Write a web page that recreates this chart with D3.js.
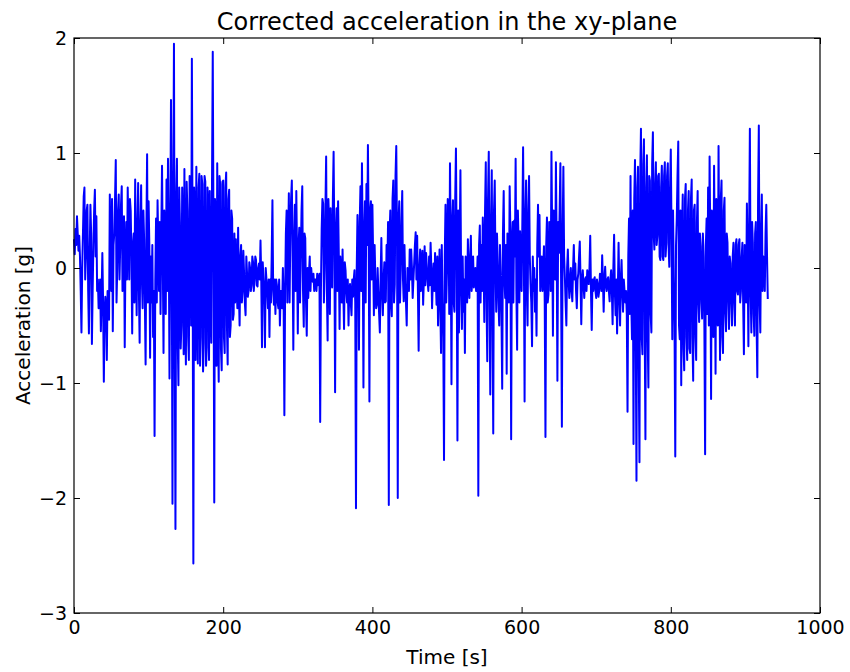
<!DOCTYPE html>
<html>
<head>
<meta charset="utf-8">
<script src="https://cdn.jsdelivr.net/npm/d3@7/dist/d3.min.js"></script>
<style>
  html, body { margin: 0; padding: 0; background: #ffffff; }
  svg { display: block; font-family: "DejaVu Sans", sans-serif; }
</style>
</head>
<body>
<svg id="chart" width="850" height="672"></svg>
<script>
// Acceleration samples (g), one per second, split into 200 s blocks
const sampleStep = 1;
const accel000 = [
  0.25, 0.12, 0.34, 0.2, 0.45, 0.3, 0.15, 0.28, 0.1, -0.2,
  -0.56, 0.0, 0.3, 0.62, 0.70, -0.1, 0.1, 0.5, 0.55, -0.2,
  -0.57, 0.1, 0.55, 0.3, -0.66, -0.2, 0.2, 0.5, 0.68, 0.1,
  0.45, -0.2, -0.1, -0.35, -0.3, -0.1, -0.55, -0.25, 0.13, -0.3,
  -0.99, -0.4, -0.25, -0.35, -0.8, -0.2, -0.3, -0.45, 0.64, 0.2,
  -0.2, 0.6, -0.55, 0.2, 0.3, 0.6, 0.94, -0.3, 0.0, 0.5,
  0.64, -0.1, 0.2, 0.55, 0.71, -0.2, 0.05, 0.45, -0.69, 0.1,
  0.4, -0.1, 0.7, 0.3, -0.1, 0.6, 0.5, 0.1, -0.57, 0.2,
  0.3, -0.3, 0.77, 0.1, -0.41, 0.35, 0.74, -0.2, -0.65, 0.4,
  0.72, -0.1, -0.35, 0.5, 0.25, -0.3, -0.84, 0.3, 0.99, -0.3,
  0.58, 0.2, -0.78, 0.1, -0.3, 0.2, -0.6, -0.2, -1.46, -0.1,
  0.43, -0.3, 0.59, 0.2, -0.2, 0.4, -0.4, 0.3, 0.89, 0.1,
  -0.74, 0.5, 0.1, -0.4, 0.77, -0.2, 0.95, 0.3, -0.96, 0.2,
  1.46, 0.3, -2.05, 0.5, 1.95, -0.6, -2.27, 0.6, 0.95, -0.6,
  -1.02, 0.7, 0.4, -0.7, -0.5, 0.7, 0.3, -0.75, 0.86, -0.4,
  -0.84, 0.75, 0.5, -0.6, -0.8, 0.8, 0.61, -0.5, 1.82, 0.2,
  -2.57, 0.7, 0.5, -0.8, 0.88, -0.3, -0.83, 0.7, 0.82, -0.85,
  -0.6, 0.8, 0.73, -0.9, -0.65, 0.8, 0.75, -0.85, -0.69, 0.7,
  0.5, -0.8, 0.67, -0.3, -0.65, 0.75, 1.88, 0.3, -2.04, 0.6,
  0.4, -0.85, 0.91, -0.5, -0.99, 0.8, 0.73, -0.7, -0.89, 0.75
];
const accel200 = [
  0.76, -0.6, -0.74, 0.7, 0.83, -0.5, -0.84, 0.6, 0.68, -0.6,
  -0.5, 0.5, 0.43, -0.45, -0.4, 0.3, -0.3, 0.25, -0.15, -0.35,
  0.35, -0.2, -0.5, 0.1, 0.2, -0.3, -0.2, 0.15, -0.05, -0.3,
  -0.41, 0.1, -0.05, -0.25, -0.2, 0.05, 0.0, -0.2, -0.15, 0.1,
  0.05, -0.2, -0.1, 0.1, 0.07, -0.15, -0.16, 0.0, 0.04, -0.1,
  0.24, -0.1, -0.69, 0.05, -0.1, -0.2, -0.69, 0.0, -0.1, -0.2,
  -0.35, -0.1, -0.6, -0.1, -0.3, 0.1, 0.59, -0.2, -0.32, -0.1,
  -0.4, -0.1, -0.15, -0.3, -0.35, -0.1, -0.5, -0.2, -0.2, -0.35,
  0.0, -0.3, -1.28, -0.2, 0.3, 0.5, -0.3, 0.2, 0.65, -0.3,
  0.3, 0.6, 0.76, 0.1, -0.71, 0.2, 0.55, -0.2, 0.67, 0.1,
  -0.57, 0.2, 0.35, -0.3, 0.1, 0.5, 0.71, -0.2, -0.51, 0.3,
  0.26, -0.3, -0.59, 0.0, -0.26, -0.05, 0.1, -0.2, 0.0, -0.1,
  -0.12, -0.05, -0.2, -0.1, -0.1, -0.2, -0.05, -0.15, -0.14, -0.05,
  -1.34, -0.2, 0.34, 0.6, 0.56, -0.3, -0.02, 0.5, 0.97, -0.2,
  -0.63, 0.6, 0.4, -0.4, 0.52, 0.1, -0.17, 0.6, 1.01, 0.2,
  -1.08, 0.3, 0.52, -0.2, 0.58, 0.1, -0.53, 0.1, -0.1, -0.3,
  0.16, -0.2, -0.53, 0.05, -0.02, -0.2, -0.3, -0.1, -0.5, -0.2,
  -0.14, -0.3, -0.41, -0.1, -0.25, -0.1, -0.02, -0.3, -2.09, 0.0,
  0.46, 0.1, -0.71, 0.4, 0.71, -0.2, 0.91, 0.2, -1.04, 0.3,
  0.58, -0.3, 0.73, 0.2, 1.07, 0.3, -1.16, 0.5, 0.58, -0.1
];
const accel400 = [
  0.55, 0.1, -0.41, 0.2, -0.11, -0.35, -0.32, 0.0, -0.2, -0.4,
  -0.56, -0.1, 0.26, -0.2, -0.41, -0.1, 0.05, -0.3, -0.29, 0.2,
  0.0, 0.4, -2.06, 0.3, 0.5, -0.3, -0.42, 0.6, 0.76, -0.3,
  -0.14, 0.8, 1.06, 0.3, -2.0, 0.4, 0.58, -0.3, -0.02, 0.4,
  0.67, -0.1, -0.29, 0.2, -0.14, -0.3, -0.5, 0.0, -0.14, -0.2,
  0.16, -0.1, 0.16, 0.0, -0.26, -0.1, 0.04, 0.2, 0.31, -0.1,
  0.28, -0.2, -0.72, 0.0, 0.16, -0.2, 0.07, 0.15, -0.32, -0.1,
  0.19, -0.15, 0.13, 0.0, -0.11, -0.2, 0.1, -0.15, 0.22, 0.0,
  -0.35, -0.1, 0.04, -0.2, 0.13, -0.1, -0.32, 0.1, -0.5, -0.2,
  0.16, -0.3, -0.74, 0.2, -0.3, -0.6, -1.67, 0.1, 0.55, -0.3,
  -0.02, 0.6, 0.49, -0.4, 0.91, 0.2, -1.01, 0.4, 0.59, -0.3,
  -0.38, 0.6, 1.04, 0.1, -1.5, 0.5, -0.56, 0.2, 0.85, -0.2,
  -0.53, 0.1, -0.38, -0.1, -0.74, 0.1, 0.0, -0.3, 0.25, -0.1,
  -0.26, 0.1, 0.28, -0.2, -0.08, 0.1, -0.17, -0.05, 0.0, -0.2,
  -0.11, 0.1, -1.98, 0.2, 0.37, -0.3, 0.2, -0.2, 0.44, 0.1,
  -0.47, 0.5, 0.92, -0.3, -0.81, 0.6, 1.01, -0.2, -1.1, 0.4,
  0.85, -0.4, -1.44, 0.5, 0.76, 0.0, -0.38, 0.3, 0.04, -0.3,
  -0.5, 0.2, -0.05, -0.4, -1.05, 0.3, 0.67, -0.1, -0.26, 0.2,
  -0.92, 0.3, 0.22, -0.3, 0.71, 0.3, -1.49, 0.2, 0.4, -0.3,
  0.41, 0.1, 0.95, -0.2, -0.71, 0.5, 0.22, -0.3, 0.32, 0.1
];
const accel600 = [
  -0.2, 0.4, 1.05, 0.2, -1.16, 0.4, 0.76, -0.2, -0.5, 0.5,
  0.8, 0.1, -0.14, -0.3, -0.68, 0.1, -0.2, 0.0, -0.38, -0.1,
  -0.59, 0.2, 0.55, 0.1, 0.46, -0.2, -0.02, 0.1, -0.2, 0.0,
  0.19, -0.3, -1.47, 0.2, 0.44, -0.3, -0.23, 0.4, 0.22, -0.2,
  1.01, 0.3, -0.59, 0.5, 0.4, -0.1, 0.92, 0.2, -0.98, 0.4,
  0.13, 0.5, 0.91, -0.2, -1.38, 0.3, 0.88, 0.1, -0.08, -0.3,
  -0.5, 0.0, 0.16, -0.1, -0.26, -0.1, 0.0, -0.2, -0.29, 0.0,
  0.2, -0.1, 0.04, -0.2, -0.35, -0.1, -0.05, 0.1, 0.23, -0.1,
  -0.49, -0.1, -0.02, -0.15, -0.26, -0.1, -0.08, -0.2, -0.02, -0.1,
  -0.14, 0.0, 0.28, -0.2, -0.54, -0.1, -0.2, -0.1, -0.08, -0.2,
  -0.26, -0.1, -0.14, -0.25, -0.2, -0.05, -0.08, -0.2, 0.11, -0.1,
  -0.38, -0.1, 0.01, -0.15, -0.2, -0.1, -0.08, -0.2, -0.29, -0.1,
  -0.02, -0.2, -0.49, 0.0, 0.29, -0.2, -0.41, -0.1, -0.57, -0.2,
  0.22, -0.2, -0.5, -0.1, 0.07, -0.2, -0.38, -0.1, -0.2, -0.3,
  -0.2, -0.4, -1.25, 0.1, 0.43, -0.4, 0.8, -0.3, -0.62, 0.5,
  -1.53, 0.6, 0.94, -0.6, -1.85, 0.7, 0.88, -0.8, -1.69, 0.8,
  1.21, -0.6, -0.75, 0.9, 1.12, -0.5, -1.49, 0.7, 0.98, -0.6,
  -1.04, 0.8, 0.76, -0.4, -0.56, 0.9, 1.18, 0.3, 0.16, 0.7,
  0.92, 0.2, 0.28, 0.8, 0.82, 0.1, 0.07, 0.7, 0.89, 0.1,
  0.07, 0.8, 0.92, 0.1, 0.22, 0.8, 0.91, 0.2, 0.01, 0.7
];
const accel800 = [
  1.03, 0.3, -0.62, 0.5, -0.08, -0.5, -1.64, 0.2, 0.43, 0.8,
  1.1, -0.5, -0.62, 0.5, -1.02, 0.3, 0.64, -0.7, -0.89, 0.6,
  0.73, -0.6, -0.8, 0.5, 0.67, -0.7, -0.74, 0.6, 0.77, -0.6,
  -0.98, 0.5, 0.55, -0.6, -0.8, 0.4, 0.67, -0.3, -0.47, 0.3,
  0.19, -0.3, -0.44, 0.3, 0.1, -0.5, -1.62, 0.2, 0.43, -0.4,
  0.7, -0.5, 0.97, 0.2, -1.14, 0.5, 0.22, -0.6, 0.89, 0.1,
  -0.92, 0.6, 0.25, -0.5, 1.06, 0.1, -0.8, 0.6, 0.76, -0.6,
  -0.74, 0.5, 0.61, -0.4, -0.55, 0.3, 0.22, -0.3, -0.53, 0.1,
  0.04, -0.3, -0.5, 0.1, 0.22, -0.3, -0.5, 0.2, 0.25, -0.2,
  -0.23, 0.2, 0.25, -0.3, -0.2, 0.1, 0.22, -0.3, -0.75, 0.2,
  0.16, -0.3, 0.56, 0.1, -0.68, 0.3, 1.21, -0.2, -0.56, 0.4,
  0.22, -0.4, -0.59, 0.3, 0.4, -0.5, -0.95, 0.6, 1.24, -0.3,
  -0.56, 0.3, 0.64, -0.2, 0.1, 0.0, -0.2, 0.3, 0.55, 0.1,
  -0.27
];

const xTicks = [0, 200, 400, 600, 800, 1000];
const yTicks = [-3, -2, -1, 0, 1, 2];

const accel = [].concat(accel000, accel200, accel400, accel600, accel800);
const series = accel.map((v, i) => ({ t: i * sampleStep, v: v }));

const plot = { left: 74, right: 820, top: 38, bottom: 613 };
const svg = d3.select("#chart");

const x = d3.scaleLinear().domain([0, 1000]).range([plot.left, plot.right]);
const y = d3.scaleLinear().domain([-3, 2]).range([plot.bottom, plot.top]);

// Signal trace
svg.append("path")
  .datum(series)
  .attr("fill", "none")
  .attr("stroke", "#0000ff")
  .attr("stroke-width", 2)
  .attr("stroke-linejoin", "round")
  .attr("d", d3.line().x(d => x(d.t)).y(d => y(d.v)));

// Axes: inward ticks on all four sides, labels on bottom and left
const tickLen = 6;
const fmt = d3.format("d");

const gBottom = svg.append("g")
  .attr("transform", `translate(0,${plot.bottom})`)
  .call(d3.axisBottom(x).tickValues(xTicks).tickSize(-tickLen).tickPadding(8).tickFormat(fmt));
const gTop = svg.append("g")
  .attr("transform", `translate(0,${plot.top})`)
  .call(d3.axisTop(x).tickValues(xTicks).tickSize(-tickLen).tickFormat(""));
const gLeft = svg.append("g")
  .attr("transform", `translate(${plot.left},0)`)
  .call(d3.axisLeft(y).tickValues(yTicks).tickSize(-tickLen).tickPadding(7).tickFormat(fmt));
const gRight = svg.append("g")
  .attr("transform", `translate(${plot.right},0)`)
  .call(d3.axisRight(y).tickValues(yTicks).tickSize(-tickLen).tickFormat(""));

[gBottom, gTop, gLeft, gRight].forEach(g => {
  g.select(".domain").remove();
  g.selectAll(".tick line").attr("stroke", "#000").attr("stroke-width", 1);
  g.selectAll(".tick text")
    .attr("fill", "#000")
    .style("font-family", "DejaVu Sans, sans-serif")
    .style("font-size", "19px");
});

// Frame
svg.append("rect")
  .attr("x", plot.left).attr("y", plot.top)
  .attr("width", plot.right - plot.left).attr("height", plot.bottom - plot.top)
  .attr("fill", "none").attr("stroke", "#000").attr("stroke-width", 1.2);

// Titles
svg.append("text")
  .attr("x", (plot.left + plot.right) / 2).attr("y", 30)
  .attr("text-anchor", "middle")
  .style("font-size", "24px")
  .text("Corrected acceleration in the xy-plane");

svg.append("text")
  .attr("x", (plot.left + plot.right) / 2).attr("y", 664)
  .attr("text-anchor", "middle")
  .style("font-size", "20px")
  .text("Time [s]");

svg.append("text")
  .attr("transform", `translate(30,${(plot.top + plot.bottom) / 2}) rotate(-90)`)
  .attr("text-anchor", "middle")
  .style("font-size", "20px")
  .text("Acceleration [g]");
</script>
</body>
</html>
